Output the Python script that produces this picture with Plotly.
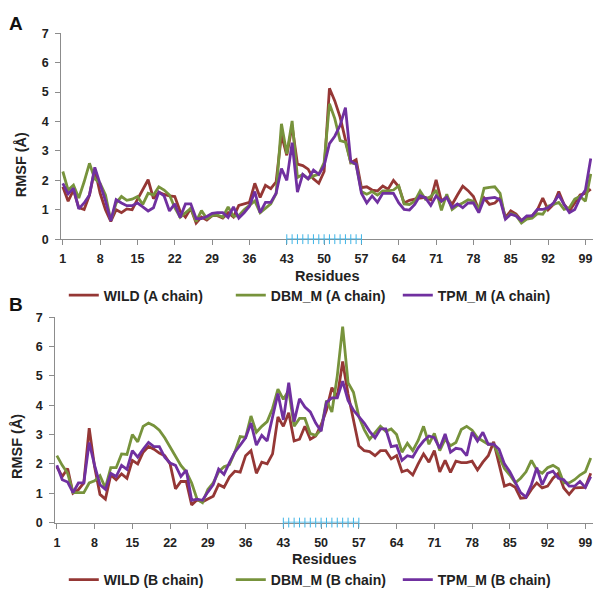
import plotly.graph_objects as go

residues = list(range(1, 101))
tick_vals = [1, 8, 15, 22, 29, 36, 43, 50, 57, 64, 71, 78, 85, 92, 99]
highlight = list(range(43, 58))
highlight_zero = [0] * len(highlight)

# panel A (A chain)
wild_a = [1.78, 1.29, 1.67, 1.07, 1.01, 1.5, 2.38, 1.56, 1.0, 0.6,
          1.0, 0.9, 1.03, 1.0, 1.35, 1.7, 2.02, 1.38, 1.6, 1.52,
          1.47, 1.45, 0.95, 0.75, 1.05, 0.55, 0.75, 0.65, 0.8, 0.8,
          0.72, 0.9, 0.75, 1.15, 1.2, 1.25, 1.9, 1.42, 1.83, 1.72,
          1.95, 3.55, 2.85, 3.85, 2.55, 2.5, 2.38, 2.05, 1.9, 2.3,
          5.13, 4.7, 4.15, 3.4, 2.6, 2.7, 1.75, 1.78, 1.67, 1.64,
          1.81, 1.7, 2.0, 1.78, 1.23, 1.32, 1.37, 1.4, 1.42, 1.34,
          2.02, 1.29, 1.45, 1.18, 1.5, 1.8, 1.65, 1.45, 1.0, 1.4,
          1.18, 1.23, 1.4, 0.74, 0.96, 0.85, 0.63, 0.74, 0.79, 1.0,
          1.4, 1.0, 1.18, 1.62, 1.18, 0.96, 1.23, 1.5, 1.56, 1.7]
dbm_a = [2.3, 1.67, 1.84, 1.4, 1.95, 2.58, 2.05, 1.9, 1.5, 0.63,
         1.23, 1.45, 1.32, 1.36, 1.45, 1.18, 1.56, 1.5, 1.78, 1.67,
         1.5, 1.07, 0.74, 0.9, 1.05, 0.6, 0.97, 0.7, 0.8, 0.82,
         0.75, 1.1, 0.78, 0.8, 1.0, 1.15, 1.3, 0.9, 1.05, 1.2,
         1.55, 3.92, 2.9, 4.02, 2.1, 2.2, 2.05, 2.15, 2.2, 2.6,
         4.6, 4.1, 3.35, 3.3, 2.6, 2.55, 1.62, 1.53, 1.62, 1.5,
         1.64, 1.64, 1.67, 1.81, 1.2, 1.18, 1.29, 1.64, 1.36, 1.45,
         1.67, 0.98, 1.53, 1.01, 1.15, 1.23, 1.34, 1.29, 1.01, 1.73,
         1.76, 1.78, 1.56, 0.68, 0.88, 0.81, 0.55, 0.68, 0.71, 0.87,
         0.85, 1.12, 1.18, 1.25, 1.01, 1.07, 1.36, 1.45, 1.29, 2.22]
tpm_a = [1.9, 1.54, 1.73, 1.03, 1.23, 1.5, 2.44, 1.9, 1.3, 0.62,
         1.34, 1.23, 1.14, 1.14, 1.23, 1.1, 0.96, 1.07, 1.6, 1.47,
         0.96, 1.2, 0.74, 1.2, 1.2, 0.7, 0.7, 0.77, 0.88, 0.9,
         0.9, 0.74, 1.1, 0.72, 0.9, 1.12, 1.62, 0.9, 1.25, 1.25,
         1.56, 2.4, 2.0, 3.28, 1.6, 2.2, 2.05, 2.35, 2.2, 2.5,
         3.25, 3.5, 3.87, 4.47, 2.65, 2.55, 1.56, 1.23, 1.47, 1.25,
         1.56, 1.56, 1.56, 1.23, 1.01, 0.99, 1.18, 1.48, 1.4, 1.15,
         1.47, 1.29, 1.42, 1.07, 1.2, 1.07, 1.23, 1.23, 0.9, 1.37,
         1.4, 1.42, 1.34, 0.68, 0.85, 0.79, 0.63, 0.79, 0.79, 1.01,
         1.01, 1.07, 1.23, 1.5, 1.18, 0.9, 1.01, 1.4, 1.67, 2.74]

# panel B (B chain)
wild_b = [1.9, 1.57, 1.84, 1.0, 1.12, 1.35, 3.22, 1.9, 0.96, 0.8,
          1.62, 1.46, 1.66, 1.51, 2.12, 2.0, 2.4, 2.59, 2.5, 2.37,
          2.28, 2.0, 1.15, 1.4, 1.4, 0.6, 0.78, 0.7, 0.8, 0.9,
          1.3, 1.2, 1.55, 1.75, 1.72, 2.28, 2.45, 1.68, 2.06, 2.0,
          2.34, 3.6, 3.28, 3.74, 2.78, 2.84, 3.28, 2.84, 2.95, 3.33,
          3.83, 4.6, 4.27, 5.49, 4.38, 3.5, 2.62, 2.45, 2.42, 2.28,
          2.45, 2.45, 2.17, 2.28, 1.73, 1.79, 1.62, 2.0, 2.34, 2.06,
          2.45, 1.73, 2.12, 1.71, 2.09, 2.04, 2.04, 2.09, 1.79, 2.06,
          2.28, 2.75, 2.0, 1.24, 1.31, 1.2, 0.83, 0.85, 1.13, 1.35,
          1.18, 1.24, 1.51, 1.68, 1.18, 0.96, 1.18, 1.18, 1.2, 1.68]
dbm_b = [2.28, 1.95, 1.68, 1.02, 1.02, 1.02, 1.35, 1.42, 1.6, 1.18,
         1.87, 1.87, 2.34, 2.32, 3.0, 2.75, 3.28, 3.39, 3.3, 3.15,
         2.89, 2.56, 2.28, 1.95, 1.73, 1.35, 0.8, 0.68, 1.13, 1.35,
         1.73, 1.9, 1.97, 2.4, 2.93, 2.9, 3.63, 3.08, 3.28, 3.44,
         3.89, 4.55, 4.2, 4.5, 3.28, 3.55, 3.55, 3.03, 2.97, 3.17,
         4.16, 3.77, 5.0, 6.68, 4.77, 4.44, 3.61, 3.17, 2.84, 3.06,
         3.28, 3.11, 3.19, 3.0, 2.4, 2.7, 2.45, 2.8, 3.28, 2.67,
         3.04, 2.45, 2.84, 2.62, 2.73, 3.17, 3.28, 3.15, 2.89, 2.78,
         2.67, 2.67, 2.28, 1.84, 1.62, 1.35, 1.51, 1.73, 2.12, 1.79,
         1.68, 1.87, 1.95, 1.84, 1.35, 1.35, 1.46, 1.62, 1.73, 2.2]
tpm_b = [1.95, 1.46, 1.38, 1.02, 1.35, 1.35, 2.73, 1.95, 1.29, 1.13,
         1.68, 1.57, 1.95, 1.81, 2.45, 2.23, 2.5, 2.73, 2.59, 2.59,
         2.23, 2.03, 1.95, 1.57, 1.79, 0.76, 0.8, 0.76, 1.04, 1.29,
         1.82, 1.64, 2.04, 2.4, 2.64, 2.89, 3.39, 2.64, 2.97, 2.78,
         3.6, 4.4, 3.5, 4.77, 3.44, 4.22, 3.94, 3.77, 3.39, 3.11,
         4.1, 4.25, 4.25, 4.82, 4.16, 3.83, 3.61, 3.39, 3.11, 2.89,
         3.19, 3.19, 2.59, 2.62, 2.12, 2.28, 2.23, 2.55, 2.78, 2.95,
         2.89, 2.53, 3.02, 2.4, 2.53, 2.5, 2.28, 3.08, 2.78, 3.08,
         2.67, 2.67, 2.5, 2.0, 1.73, 1.35, 1.02, 0.87, 1.29, 1.87,
         1.29, 1.68, 1.75, 1.51, 1.46, 1.24, 1.24, 1.4, 1.2, 1.57]

FONT = 'Liberation Sans, Arial, sans-serif'
RED = '#953735'
GREEN = '#77933C'
PURPLE = '#7030A0'
CYAN = '#3FB4E6'
AXIS = '#8C8C8C'

fig = go.Figure()

panels = [
    ('x', 'y', 'legend', 'A chain', [wild_a, dbm_a, tpm_a]),
    ('x2', 'y2', 'legend2', 'B chain', [wild_b, dbm_b, tpm_b]),
]
for xa, ya, leg, chain, series in panels:
    for label, vals, color in zip(['WILD', 'DBM_M', 'TPM_M'], series, [RED, GREEN, PURPLE]):
        fig.add_trace(go.Scatter(
            x=residues, y=vals, mode='lines',
            name=f'{label} ({chain})',
            line=dict(color=color, width=2.8),
            xaxis=xa, yaxis=ya, legend=leg,
        ))
    # cyan tick marks for the 43-57 region
    fig.add_trace(go.Scatter(
        x=highlight, y=highlight_zero, mode='lines+markers',
        line=dict(color=CYAN, width=1.5),
        marker=dict(symbol='line-ns', size=7, line=dict(color=CYAN, width=1)),
        showlegend=False, cliponaxis=False, hoverinfo='skip',
        xaxis=xa, yaxis=ya,
    ))

tickfont = dict(family=FONT, size=12.5, color='#222222', weight='bold')
xcommon = dict(range=[0.68, 100.37], tickvals=tick_vals, ticks='outside', ticklen=5,
               tickcolor=AXIS, showline=True, linecolor=AXIS, linewidth=1,
               showgrid=False, zeroline=False, tickfont=tickfont,
               ticklabelstandoff=3, layer='below traces')
ycommon = dict(range=[0, 7], dtick=1, ticks='outside', ticklen=5, tickcolor=AXIS,
               showline=True, linecolor=AXIS, linewidth=1, showgrid=False,
               zeroline=False, tickfont=tickfont, ticklabelstandoff=4)

W, H = 600, 596
legend_font = dict(family=FONT, size=14, color='#222222', weight='bold')
fig.update_layout(
    width=W, height=H,
    margin=dict(l=0, r=0, t=0, b=0),
    paper_bgcolor='white', plot_bgcolor='white',
    font=dict(family=FONT, color='#222222'),
    xaxis=dict(domain=[59.3 / W, 592.7 / W], anchor='y', **xcommon),
    yaxis=dict(domain=[(H - 239) / H, (H - 27) / H], anchor='x', **ycommon),
    xaxis2=dict(domain=[53.3 / W, 592.7 / W], anchor='y2', **xcommon),
    yaxis2=dict(domain=[(H - 530.7) / H, (H - 319.3) / H], anchor='x2', **ycommon),
    legend=dict(orientation='h', x=62 / W, y=(H - 297) / H, xanchor='left', yanchor='middle',
                font=legend_font, entrywidth=122, bgcolor='rgba(0,0,0,0)'),
    legend2=dict(orientation='h', x=62 / W, y=(H - 590) / H, xanchor='left', yanchor='middle',
                 font=legend_font, entrywidth=122, bgcolor='rgba(0,0,0,0)'),
    showlegend=True,
)

title_font = dict(family=FONT, size=14.5, color='#222222', weight='bold')
letter_font = dict(family=FONT, size=19, color='#111111', weight='bold')
annotations = [
    dict(text='A', x=14 / W, y=(H - 17) / H, font=letter_font),
    dict(text='B', x=14 / W, y=(H - 306) / H, font=letter_font),
    dict(text='Residues', x=326 / W, y=(H - 277) / H, font=title_font),
    dict(text='Residues', x=323 / W, y=(H - 568) / H, font=title_font),
    dict(text='RMSF (Å)', x=19 / W, y=(H - 162) / H, font=title_font, textangle=-90),
    dict(text='RMSF (Å)', x=15 / W, y=(H - 452) / H, font=title_font, textangle=-90),
]
for a in annotations:
    fig.add_annotation(xref='paper', yref='paper', showarrow=False,
                       xanchor='center', yanchor='middle', **a)

fig.write_html("out.html", config={'displayModeBar': False},
               post_script="document.body.style.margin='0';")
